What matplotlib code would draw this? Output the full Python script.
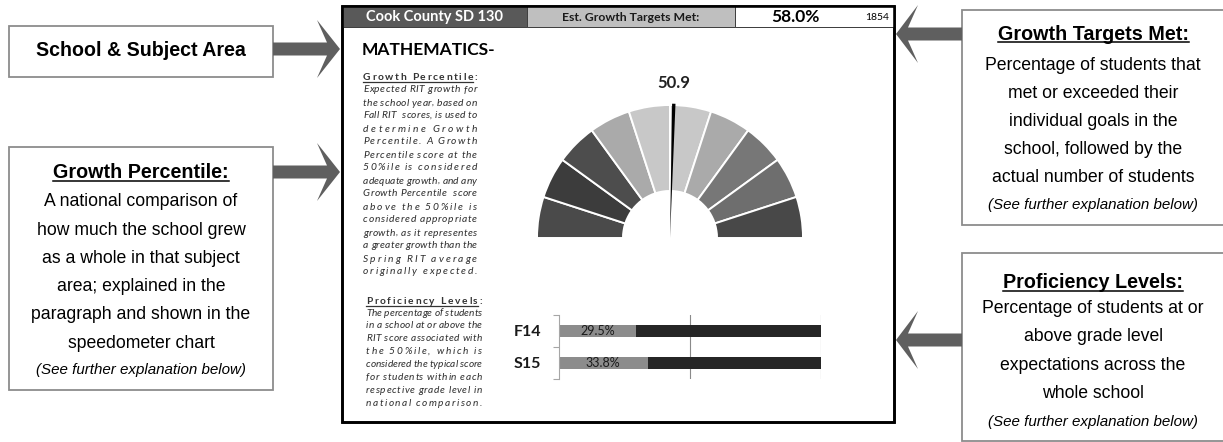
import matplotlib
matplotlib.use('Agg')
import matplotlib.pyplot as plt
from matplotlib.patches import Rectangle, Polygon
from matplotlib.font_manager import FontProperties, findfont
from matplotlib.ft2font import FT2Font

school_name = 'Cook County SD 130'
subject_name = 'MATHEMATICS-'
growth_targets_met = 58.0
student_count = 1854
growth_percentile = 50.9
gauge_bands = [10, 10, 10, 10, 10, 10, 10, 10, 10, 10]
prof_terms = ['F14', 'S15']
prof_pct = [29.5, 33.8]

growth_head = 'Growth Percentile:'
growth_lines = [
    'Expected RIT growth for',
    'the school year, based on',
    'Fall RIT  scores, is used to',
    'determine Growth',
    'Percentile. A Growth',
    'Percentile score at the',
    '50%ile is considered',
    'adequate growth, and any',
    'Growth Percentile  score',
    'above the 50%ile is',
    'considered appropriate',
    'growth, as it representes',
    'a greater growth than the',
    'Spring RIT average',
    'originally expected.',
]
prof_head = 'Proficiency Levels:'
prof_lines = [
    'The percentage of students',
    'in a school at or above the',
    'RIT score associated with',
    'the 50%ile, which is',
    'considered the typical score',
    'for students within each',
    'respective grade level in',
    'national comparison.',
]

left_title = 'School & Subject Area'
gp_title = 'Growth Percentile:'
gp_body = ['A national comparison of', 'how much the school grew', 'as a whole in that subject',
           'area; explained in the', 'paragraph and shown in the', 'speedometer chart']
gtm_title = 'Growth Targets Met:'
gtm_body = ['Percentage of students that', 'met or exceeded their', 'individual goals in the',
            'school, followed by the', 'actual number of students']
pl_title = 'Proficiency Levels:'
pl_body = ['Percentage of students at or', 'above grade level', 'expectations across the', 'whole school']
see_below = '(See further explanation below)'

gauge_colors = ['#4a4a4a', '#3c3c3c', '#4d4d4d', '#aaaaaa', '#c8c8c8',
                '#c8c8c8', '#aaaaaa', '#777777', '#6e6e6e', '#484848']

W, H = 1223, 442
fig = plt.figure(figsize=(W / 100, H / 100), dpi=100)
bg = fig.add_axes([0, 0, 1, 1])
bg.set_xlim(0, W)
bg.set_ylim(H, 0)
bg.axis('off')
renderer = fig.canvas.get_renderer()

ARIAL = 'Liberation Sans'
CALI = 'Lato'


def px(v):
    return v * 0.72


def fig_rect(x0, y0, x1, y1):
    return [x0 / W, 1 - y1 / H, (x1 - x0) / W, (y1 - y0) / H]


def advances(s, fp):
    font = FT2Font(findfont(fp))
    font.set_size(fp.get_size_in_points(), 100)
    return [font.load_char(ord(c)).linearHoriAdvance / 65536 for c in s]


def justify(s, x0, x1, y, fp, color):
    # stretch the letters so the line fills x0..x1, returns char start positions
    adv = advances(s, fp)
    gap = (x1 - x0 - sum(adv)) / max(len(s) - 1, 1)
    x = x0
    pos = []
    for c, a in zip(s, adv):
        pos.append(x)
        if c != ' ':
            bg.text(x + a / 2, y, c, ha='center', va='baseline', fontproperties=fp, color=color, zorder=8)
        x += a + gap
    return pos


def paragraph(head, lines, x0, x1, y_head, y_first, step, pref):
    fp_it = FontProperties(family=CALI, style='italic', size=pref)
    widest = max(sum(advances(l, fp_it)) for l in lines)
    size = min(pref, pref * (x1 - x0) * 1.0 / widest)
    fp_it.set_size(size)
    fp_h = FontProperties(family=CALI, weight='bold', size=size)
    pos = justify(head, x0, x1, y_head + 2.5, fp_h, '#333333')
    bg.plot([x0, pos[-1] - 1], [y_head + 4, y_head + 4], color='#333333', lw=0.9, zorder=8)
    for i, l in enumerate(lines):
        justify(l, x0, x1, y_first + i * step + 2.5, fp_it, '#2e2e2e')


def underlined(x, y, s, size):
    t = bg.text(x, y, s, ha='center', va='baseline', family=ARIAL, weight='bold', fontsize=size, color='black')
    bb = t.get_window_extent(renderer)
    bg.plot([bb.x0, bb.x1], [y + 2.5, y + 2.5], color='black', lw=1.1)


def box_text(xc, y_title, title, body, y_body, step, y_see):
    underlined(xc, y_title + 6.5, title, 14.2)
    for i, l in enumerate(body):
        bg.text(xc, y_body + i * step, l, ha='center', va='center', family=ARIAL, fontsize=12.7, color='black')
    bg.text(xc, y_see, see_below, ha='center', va='center', family=ARIAL, style='italic', fontsize=10.9, color='black')


def arrow(xs, xt, yc, head_x, notch_x):
    pts = [(xs, yc - 6.5), (notch_x, yc - 6.5), (head_x, yc - 29), (xt, yc),
           (head_x, yc + 29), (notch_x, yc + 6.5), (xs, yc + 6.5)]
    bg.add_patch(Polygon(pts, closed=True, facecolor='#5f5f5f', edgecolor='none', zorder=3))


# ---- explanatory boxes and arrows ----
box_kw = dict(facecolor='white', edgecolor='#8c8c8c', lw=px(1.8), zorder=2)
bg.add_patch(Rectangle((9, 26), 264, 51, **box_kw))
bg.add_patch(Rectangle((9, 147), 264, 243, **box_kw))
bg.add_patch(Rectangle((962, 10), 262, 215, **box_kw))
bg.add_patch(Rectangle((962, 253), 262, 188, **box_kw))

bg.text(141, 51, left_title, ha='center', va='center', family=ARIAL, weight='bold', fontsize=14.1)
box_text(141, 172, gp_title, gp_body, 202, 28.2, 370)
box_text(1093, 33, gtm_title, gtm_body, 65, 28.2, 205)
box_text(1093, 282, pl_title, pl_body, 308.5, 28.3, 422)

arrow(273, 340, 49, 317, 327)
arrow(273, 340, 172, 317, 327)
arrow(962, 896, 34, 918, 908)
arrow(962, 896, 340, 918, 908)

# ---- main report panel ----
bg.add_patch(Rectangle((342, 6), 552, 416, facecolor='white', edgecolor='black', lw=px(2.6), zorder=4))
hdr_kw = dict(edgecolor='#404040', lw=px(1), zorder=5)
bg.add_patch(Rectangle((342, 6), 185, 21, facecolor='#595959', **hdr_kw))
bg.add_patch(Rectangle((527, 6), 208, 21, facecolor='#bfbfbf', **hdr_kw))
bg.add_patch(Rectangle((735, 6), 159, 21, facecolor='white', **hdr_kw))
bg.add_patch(Rectangle((342, 6), 552, 416, facecolor='none', edgecolor='black', lw=px(2.6), zorder=6))

bg.text(434, 17.5, school_name, ha='center', va='center', family=CALI, weight='bold', fontsize=10.5, color='white', zorder=7)
bg.text(631, 17.5, 'Est. Growth Targets Met:', ha='center', va='center', family=CALI, weight='bold', fontsize=8.8, color='#1a1a1a', zorder=7)
bg.text(795, 17, f'{growth_targets_met:.1f}%', ha='center', va='center', family=CALI, weight='bold', fontsize=12.5, color='black', zorder=7)
bg.text(877, 17.5, str(student_count), ha='center', va='center', family=CALI, fontsize=7.5, color='black', zorder=7)

bg.text(362, 50, subject_name, ha='left', va='center', family=CALI, weight='bold', fontsize=12.5, color='black', zorder=7)
bg.text(674, 83, f'{growth_percentile:.1f}', ha='center', va='center', family=CALI, weight='bold', fontsize=12, color='#222222', zorder=7)

paragraph(growth_head, growth_lines, 363, 477, 78, 90, 13.0, 7.4)
paragraph(prof_head, prof_lines, 366, 482, 302, 313, 12.9, 7.4)

# ---- speedometer (growth percentile) ----
R_px, r_px = 133, 47
gx, gy = 670, 238
g_ax = fig.add_axes(fig_rect(gx - 1.25 * R_px, gy - 1.25 * R_px, gx + 1.25 * R_px, gy + 1.25 * R_px))
half = sum(gauge_bands)
wedges, _ = g_ax.pie(gauge_bands + [half], colors=gauge_colors + ['white'], startangle=180,
                     counterclock=False, radius=1,
                     wedgeprops=dict(width=1 - r_px / R_px, edgecolor='white', linewidth=1.4))
wedges[-1].set_visible(False)
needle_w = 0.8
nw, _ = g_ax.pie([growth_percentile - needle_w / 2, needle_w, 2 * half - growth_percentile - needle_w / 2],
                 colors=['white', 'black', 'white'], startangle=180, counterclock=False, radius=1.01,
                 wedgeprops=dict(linewidth=0))
nw[0].set_visible(False)
nw[2].set_visible(False)
g_ax.set_xlim(-1.25, 1.25)
g_ax.set_ylim(-1.25, 1.25)
g_ax.set_aspect('equal')
g_ax.axis('off')

# ---- proficiency bars ----
b_ax = fig.add_axes(fig_rect(559, 315, 821, 379))
ypos = [0, 1]
share = [p / 100 for p in prof_pct]
rest = [1 - s for s in share]
bars = b_ax.barh(ypos, share, height=0.37, color='#8c8c8c', zorder=2)
b_ax.barh(ypos, rest, left=share, height=0.37, color='#262626', zorder=2)
b_ax.bar_label(bars, labels=[f'{p:.1f}%' for p in prof_pct], label_type='center',
               family=CALI, fontsize=9, color='#1a1a1a')
b_ax.set_xlim(0, 1)
b_ax.set_ylim(1.5, -0.5)
b_ax.set_yticks(ypos, prof_terms)
b_ax.set_yticks([-0.5, 0.5, 1.5], minor=True)
b_ax.tick_params(axis='y', which='major', length=0, pad=13)
b_ax.tick_params(axis='y', which='minor', length=4.3, color='#a6a6a6', width=0.8)
for lbl in b_ax.get_yticklabels():
    lbl.set_fontfamily(CALI)
    lbl.set_fontweight('bold')
    lbl.set_fontsize(11.5)
    lbl.set_color('#1a1a1a')
b_ax.set_xticks([0.5, 1.0])
b_ax.tick_params(axis='x', length=0, labelbottom=False)
b_ax.grid(axis='x', color='#8a8a8a', lw=0.8)
b_ax.set_axisbelow(True)
for side in ['top', 'right', 'bottom']:
    b_ax.spines[side].set_visible(False)
b_ax.spines['left'].set_color('#a6a6a6')
b_ax.spines['left'].set_linewidth(0.8)
b_ax.patch.set_alpha(0)

fig.savefig('out.png', dpi=100)
